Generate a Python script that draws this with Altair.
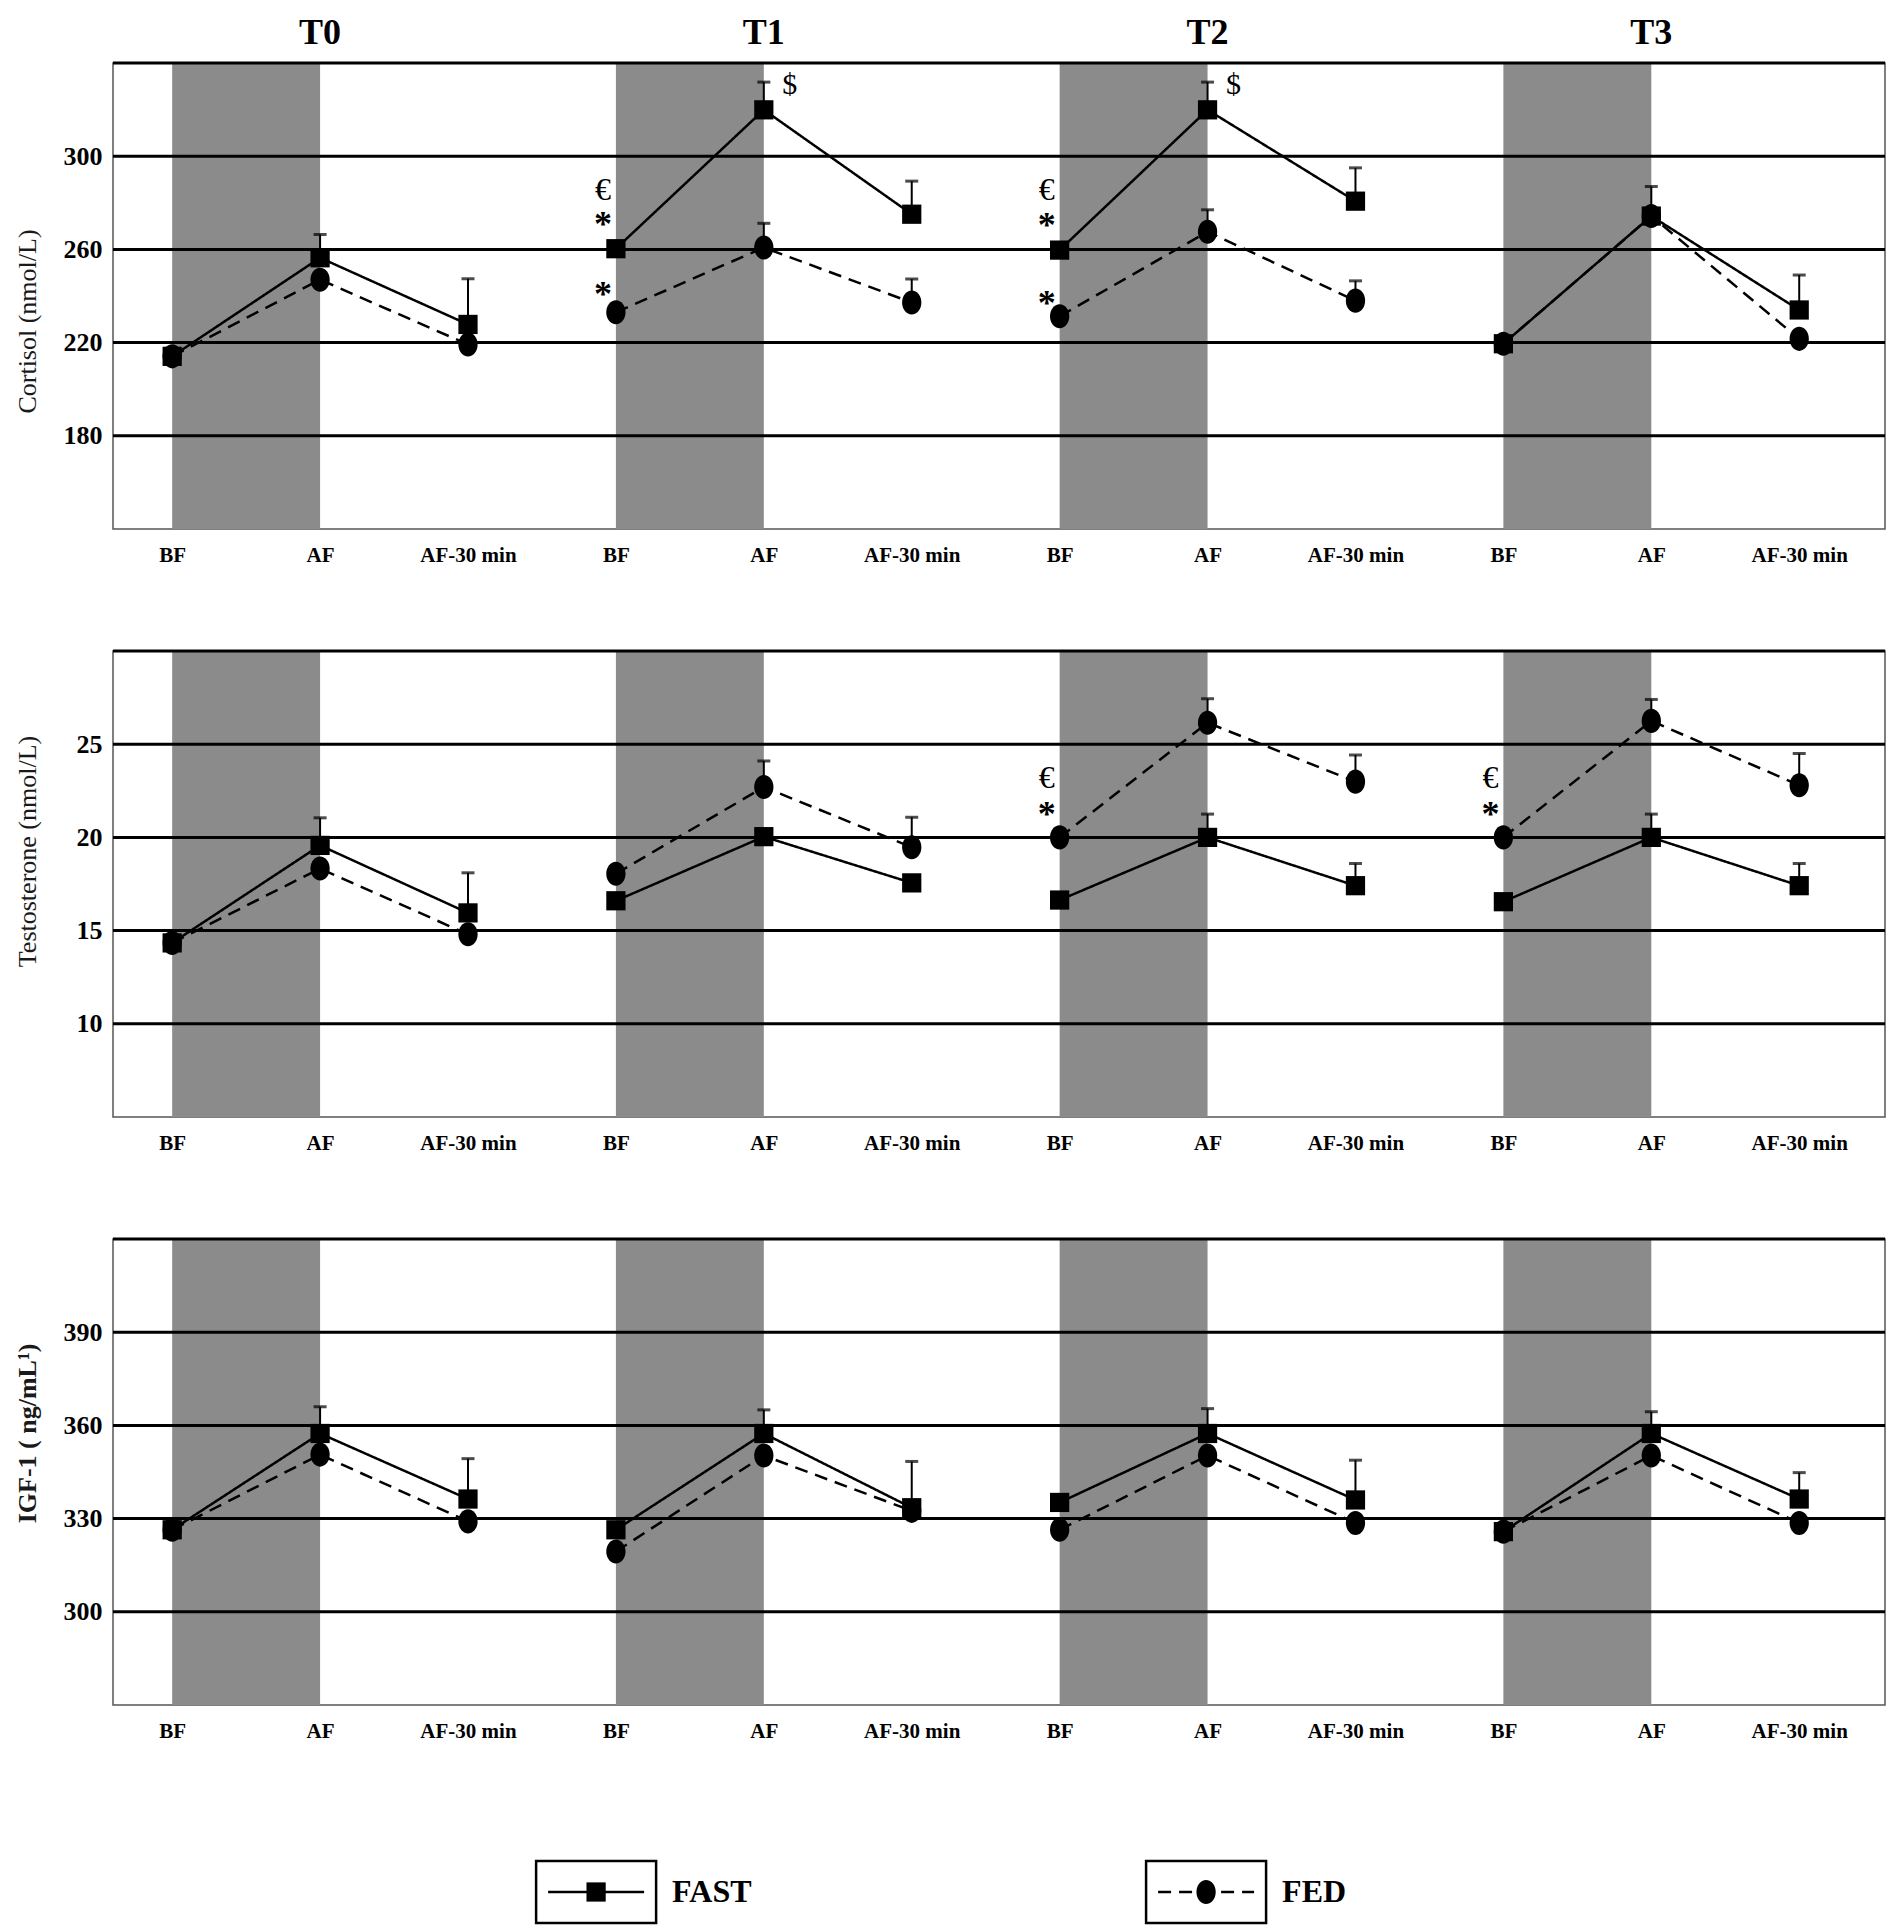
import altair as alt
import pandas as pd

SERIF = "Liberation Serif"

# ---------------- data ----------------
sessions = ["T0", "T1", "T2", "T3"]
phases = ["BF", "AF", "AF-30 min"]
groups = ["FAST", "FED"]

# Cortisol (nmol/L), 12 points: T0 BF, AF, AF-30 | T1 ... | T2 ... | T3 ...
cortisol_fast = [214.1, 256.4, 227.8, 260.3, 319.9, 275.1, 259.7, 319.9, 280.7, 219.5, 274.3, 234.0]
cortisol_fed = [214.1, 247.0, 219.2, 233.0, 260.8, 237.2, 231.3, 267.6, 238.0, 219.5, 274.3, 221.6]
cortisol_fast_err = [None, 10.0, 19.6, None, 11.9, 14.2, None, 11.9, 14.3, None, 12.7, 15.0]
cortisol_fed_err = [None, None, None, None, 10.4, 10.1, None, 9.4, 8.5, None, None, None]
cortisol_note_text = ["€", "*", "*", "$", "€", "*", "*", "$"]
cortisol_note_pos = [3, 3, 3, 4, 6, 6, 6, 7]
cortisol_note_val = [285.5, 273.0, 243.0, 330.5, 285.5, 272.5, 239.0, 330.5]

# Testosterone (nmol/L)
testo_fast = [14.34, 19.57, 15.95, 16.60, 20.04, 17.56, 16.64, 20.00, 17.41, 16.55, 20.00, 17.41]
testo_fed = [14.34, 18.33, 14.80, 18.05, 22.70, 19.47, 20.00, 26.15, 22.99, 20.00, 26.25, 22.80]
testo_fast_err = [None, 1.48, 2.15, None, None, None, None, 1.25, 1.19, None, 1.25, 1.19]
testo_fed_err = [None, None, None, None, 1.40, 1.61, None, 1.29, 1.43, None, 1.15, 1.70]
testo_note_text = ["€", "*", "€", "*"]
testo_note_pos = [6, 6, 9, 9]
testo_note_val = [23.2, 21.5, 23.2, 21.5]

# IGF-1 (ng/mL)
igf_fast = [326.4, 357.4, 336.3, 326.4, 357.4, 333.5, 335.2, 357.4, 336.0, 325.8, 357.4, 336.3]
igf_fed = [326.4, 350.6, 329.1, 319.4, 350.3, 332.5, 326.4, 350.3, 328.6, 325.8, 350.3, 328.6]
igf_fast_err = [None, 8.6, 13.0, None, 7.6, 14.9, None, 8.0, 12.8, None, 7.0, 8.5]
igf_fed_err = [None] * 12

# ---------------- layout ----------------
W, H = 1772, 466
XDOM = [-0.4, 11.58]
label_expr = "[" + ",".join("'%s'" % p for p in phases) + "][datum.value % 3]"

x_scale = alt.Scale(domain=XDOM, nice=False, zero=False)
x_axis = alt.Axis(values=list(range(12)), labelExpr=label_expr, grid=False, ticks=False,
                  domain=False, labelPadding=15, labelFontSize=21, labelFontWeight="bold",
                  labelFlush=False, labelOverlap=False, title=None)

ELLIPSE = "M0,-1A0.8,1 0 1,1 0,1A0.8,1 0 1,1 0,-1Z"
dash_scale = alt.Scale(domain=groups, range=[[1, 0], [13, 8]])
shape_scale = alt.Scale(domain=groups, range=["square", ELLIPSE])
size_scale = alt.Scale(domain=groups, range=[370, 580])


def build_df(fast, fed, fast_err, fed_err):
    rows = []
    for g, vals, errs in (("FED", fed, fed_err), ("FAST", fast, fast_err)):
        for i, (v, e) in enumerate(zip(vals, errs)):
            rows.append({"pos": i, "session": sessions[i // 3], "phase": phases[i % 3],
                         "group": g, "value": v,
                         "top": (v + e) if e is not None else None})
    return pd.DataFrame(rows)


bands_df = pd.DataFrame({"session": sessions,
                         "start": [3 * k for k in range(len(sessions))],
                         "end": [3 * k + 1 for k in range(len(sessions))]})
titles_df = pd.DataFrame({"session": sessions, "pos": [3 * k + 1 for k in range(len(sessions))]})


def panel(df, domain, ticks, grid_vals, ytitle, title_weight, title_y,
          notes=None, with_sessions=False):
    y_scale = alt.Scale(domain=domain, nice=False, zero=False)
    y_axis = alt.Axis(values=ticks, grid=False, ticks=False, domain=False,
                      labelPadding=11, labelFontSize=26, labelFontWeight="bold",
                      title=ytitle, titleFontSize=26, titleFontWeight=title_weight,
                      titleAngle=270, titleX=-86, titleY=title_y, titleBaseline="middle",
                      titleAlign="center", titleColor="#1a1a1a")
    X = lambda f: alt.X(f, scale=x_scale, axis=x_axis)
    Y = lambda f: alt.Y(f, scale=y_scale, axis=y_axis)

    bands = alt.Chart(bands_df).mark_rect(color="#8b8b8b").encode(
        x=X("start:Q"), x2="end:Q", y=alt.value(0), y2=alt.value(H))
    grid = alt.Chart(pd.DataFrame({"v": grid_vals})).mark_rule(
        color="black", strokeWidth=3).encode(y=Y("v:Q"))
    lines = alt.Chart(df).mark_line(color="black", strokeWidth=2.5).encode(
        x=X("pos:Q"), y=Y("value:Q"), detail="session:N",
        strokeDash=alt.StrokeDash("group:N", scale=dash_scale, legend=None))
    err_df = df.dropna(subset=["top"])
    stems = alt.Chart(err_df).mark_rule(color="black", strokeWidth=2).encode(
        x=X("pos:Q"), y=Y("value:Q"), y2="top:Q")
    caps = alt.Chart(err_df).mark_tick(color="black", orient="horizontal", size=13,
                                       thickness=3).encode(x=X("pos:Q"), y=Y("top:Q"))
    points = alt.Chart(df).mark_point(filled=True, opacity=1, color="black").encode(
        x=X("pos:Q"), y=Y("value:Q"),
        shape=alt.Shape("group:N", scale=shape_scale, legend=None),
        size=alt.Size("group:N", scale=size_scale, legend=None))
    layers = [bands, grid, lines, stems, caps, points]
    if notes is not None:
        ndf = pd.DataFrame({"txt": notes[0], "pos": notes[1], "value": notes[2]})
        euro = alt.Chart(ndf).transform_filter(alt.datum.txt == "€").mark_text(
            font=SERIF, fontSize=32, dx=-13, baseline="middle", color="black").encode(
            x=X("pos:Q"), y=Y("value:Q"), text="txt:N")
        star = alt.Chart(ndf).transform_filter(alt.datum.txt == "*").mark_text(
            font=SERIF, fontSize=36, fontWeight="bold", dx=-13, dy=6, baseline="middle",
            color="black").encode(x=X("pos:Q"), y=Y("value:Q"), text="txt:N")
        dollar = alt.Chart(ndf).transform_filter(alt.datum.txt == "$").mark_text(
            font=SERIF, fontSize=30, dx=26, baseline="middle", color="black").encode(
            x=X("pos:Q"), y=Y("value:Q"), text="txt:N")
        layers += [euro, star, dollar]
    if with_sessions:
        ttl = alt.Chart(titles_df).mark_text(
            font=SERIF, fontSize=36, fontWeight="bold", baseline="middle",
            color="black").encode(x=X("pos:Q"), y=alt.value(-30), text="session:N")
        layers.append(ttl)
    return alt.layer(*layers).properties(width=W, height=H)


top = panel(build_df(cortisol_fast, cortisol_fed, cortisol_fast_err, cortisol_fed_err),
            [140, 340], [180, 220, 260, 300], [180, 220, 260, 300, 340],
            "Cortisol (nmol/L)", "normal", 258,
            notes=(cortisol_note_text, cortisol_note_pos, cortisol_note_val),
            with_sessions=True)
mid = panel(build_df(testo_fast, testo_fed, testo_fast_err, testo_fed_err),
            [5, 30], [10, 15, 20, 25], [10, 15, 20, 25, 30],
            "Testosterone (nmol/L)", "normal", 200,
            notes=(testo_note_text, testo_note_pos, testo_note_val))
bot = panel(build_df(igf_fast, igf_fed, igf_fast_err, igf_fed_err),
            [270, 420], [300, 330, 360, 390], [300, 330, 360, 390, 420],
            "IGF-1  (  ng/mL\u00b9)", "bold", 194)

# ---------------- legend ----------------
LTOP, LH = 34, 62
legend_df = pd.DataFrame({"group": groups, "slot": [0, 1]})
lx = alt.X("slot:Q", scale=alt.Scale(domain=[-0.792, 2.113], nice=False, zero=False), axis=None)
l_box = alt.Chart(legend_df).mark_rect(fill="white", stroke="black", strokeWidth=2.5,
                                       xOffset=-60, x2Offset=60).encode(
    x=lx, x2="slot:Q", y=alt.value(LTOP), y2=alt.value(LTOP + LH))
l_line = alt.Chart(legend_df).mark_rule(color="black", strokeWidth=2.5,
                                        xOffset=-48, x2Offset=48).encode(
    x=lx, x2="slot:Q", y=alt.value(LTOP + LH / 2),
    strokeDash=alt.StrokeDash("group:N", scale=dash_scale, legend=None))
l_pt = alt.Chart(legend_df).mark_point(filled=True, opacity=1, color="black").encode(
    x=lx, y=alt.value(LTOP + LH / 2),
    shape=alt.Shape("group:N", scale=shape_scale, legend=None),
    size=alt.Size("group:N", scale=alt.Scale(domain=groups, range=[520, 800]), legend=None))
l_txt = alt.Chart(legend_df).mark_text(font=SERIF, fontSize=32, fontWeight="bold",
                                       align="left", baseline="middle", dx=76,
                                       color="black").encode(
    x=lx, y=alt.value(LTOP + LH / 2), text="group:N")
legend = alt.layer(l_box, l_line, l_pt, l_txt).properties(
    width=W, height=LTOP + LH, view=alt.ViewBackground(strokeWidth=0, stroke="transparent"))

chart = alt.vconcat(top, mid, bot, legend, spacing=122, bounds="flush").properties(
    padding={"left": 5, "top": 6, "right": 5, "bottom": 5},
    background="white",
).configure_axis(
    labelFont=SERIF, titleFont=SERIF, labelColor="black",
).configure_view(
    stroke="#555555", strokeWidth=1.5,
)

chart.save("out.html", embed_options={"renderer": "svg", "actions": False})
